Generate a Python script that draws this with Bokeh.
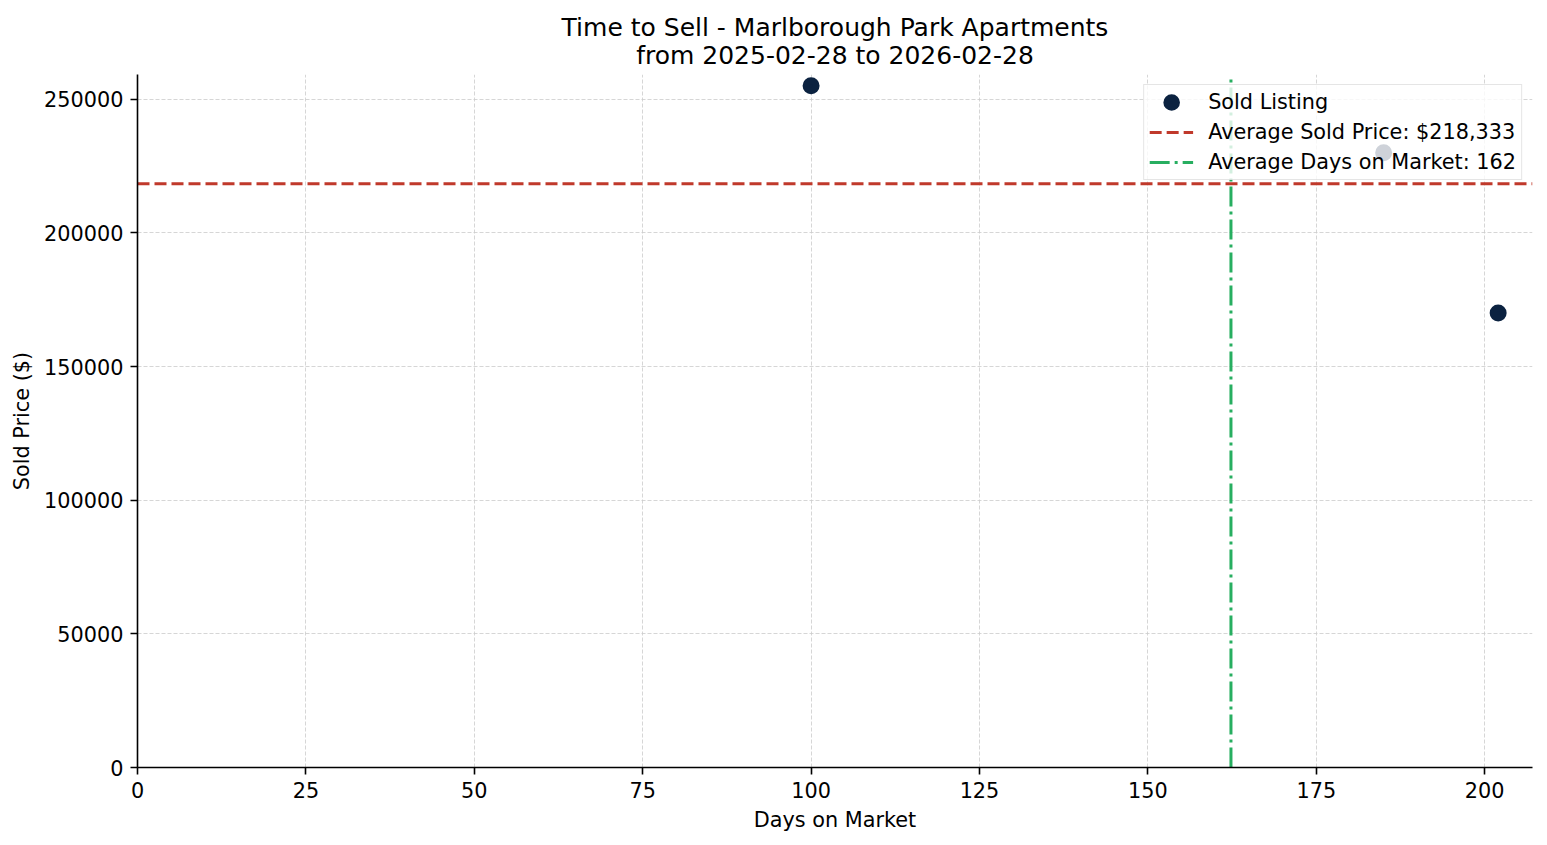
import numpy as np
from bokeh.plotting import figure
from bokeh.models import (Range1d, FixedTicker, NumeralTickFormatter, Title, Legend, LegendItem)
from bokeh.embed import file_html
from bokeh.resources import INLINE

# ---- data ----
days_on_market = [100, 185, 202]
sold_prices = [255000, 230000, 170000]
x_ticks = [0, 25, 50, 75, 100, 125, 150, 175, 200]
y_ticks = [0, 50000, 100000, 150000, 200000, 250000]
title_line1 = "Time to Sell - Marlborough Park Apartments"
title_line2 = "from 2025-02-28 to 2026-02-28"

avg_price = float(np.mean(sold_prices))
avg_days = float(np.mean(days_on_market))

x_max = max(days_on_market) + 0.05 * (max(days_on_market) - min(days_on_market))
y_max = max(sold_prices) + 0.05 * (max(sold_prices) - min(sold_prices))

FONT = "DejaVu Sans"
FS = "20.8px"

p = figure(width=1547, height=845, output_backend="svg", toolbar_location=None,
           x_range=Range1d(0, x_max), y_range=Range1d(0, y_max),
           min_border_left=137, min_border_right=15, min_border_top=74, min_border_bottom=78)
p.outline_line_color = None
p.background_fill_color = "white"

# title (two centred lines)
t = Title(text=title_line1 + "\n" + title_line2, align="center", text_font=FONT,
          text_font_size="25px", text_font_style="normal", text_color="black",
          text_line_height=0.97, standoff=8)
if "text_align" in Title.properties():
    t.text_align = "center"
p.add_layout(t, "above")

# axes
for ax in (p.xaxis[0], p.yaxis[0]):
    ax.axis_line_color = "black"
    ax.axis_line_width = 1.6
    ax.major_tick_line_color = "black"
    ax.major_tick_line_width = 1.6
    ax.major_tick_out = 7
    ax.major_tick_in = 0
    ax.minor_tick_out = 0
    ax.minor_tick_in = 0
    ax.major_label_text_font = FONT
    ax.major_label_text_font_size = FS
    ax.major_label_text_color = "black"
    ax.major_label_standoff = 7
    ax.axis_label_text_font = FONT
    ax.axis_label_text_font_size = FS
    ax.axis_label_text_font_style = "normal"
    ax.axis_label_text_color = "black"

p.xaxis.ticker = FixedTicker(ticks=x_ticks)
p.yaxis.ticker = FixedTicker(ticks=y_ticks)
p.yaxis.formatter = NumeralTickFormatter(format="0")
p.xaxis.axis_label = "Days on Market"
p.yaxis.axis_label = "Sold Price ($)"
p.xaxis.axis_label_standoff = 7
p.yaxis.axis_label_standoff = 7

# grid
for g in (p.xgrid[0], p.ygrid[0]):
    g.grid_line_color = "#cccccc"
    g.grid_line_width = 1
    g.grid_line_dash = "4 2"
    g.grid_line_alpha = 0.8

# glyphs (marker outline widens the dot so the legend swatch matches)
sc = p.scatter(days_on_market, sold_prices, size=10, color="#0b2240",
               line_color="#0b2240", line_width=7)
hl = p.line([0, x_max], [avg_price, avg_price], line_color="#c0392b", line_width=3,
            line_dash="12 5")
vl = p.line([avg_days, avg_days], [0, y_max], line_color="#27ae60", line_width=3,
            line_dash="20 5 3 5")

legend = Legend(items=[
    LegendItem(label="Sold Listing", renderers=[sc]),
    LegendItem(label=f"Average Sold Price: ${avg_price:,.0f}", renderers=[hl]),
    LegendItem(label=f"Average Days on Market: {avg_days:.0f}", renderers=[vl]),
], location="top_right")
legend.label_text_font = FONT
legend.label_text_font_size = FS
legend.label_text_color = "black"
legend.background_fill_color = "white"
legend.background_fill_alpha = 0.8
legend.border_line_color = "#cccccc"
legend.border_line_width = 1.5
legend.padding = 5
legend.margin = 10
legend.spacing = 6
legend.glyph_width = 44
legend.glyph_height = 24
legend.label_height = 24
legend.label_standoff = 15
p.add_layout(legend)

open("out.html", "w").write(file_html(p, INLINE))
